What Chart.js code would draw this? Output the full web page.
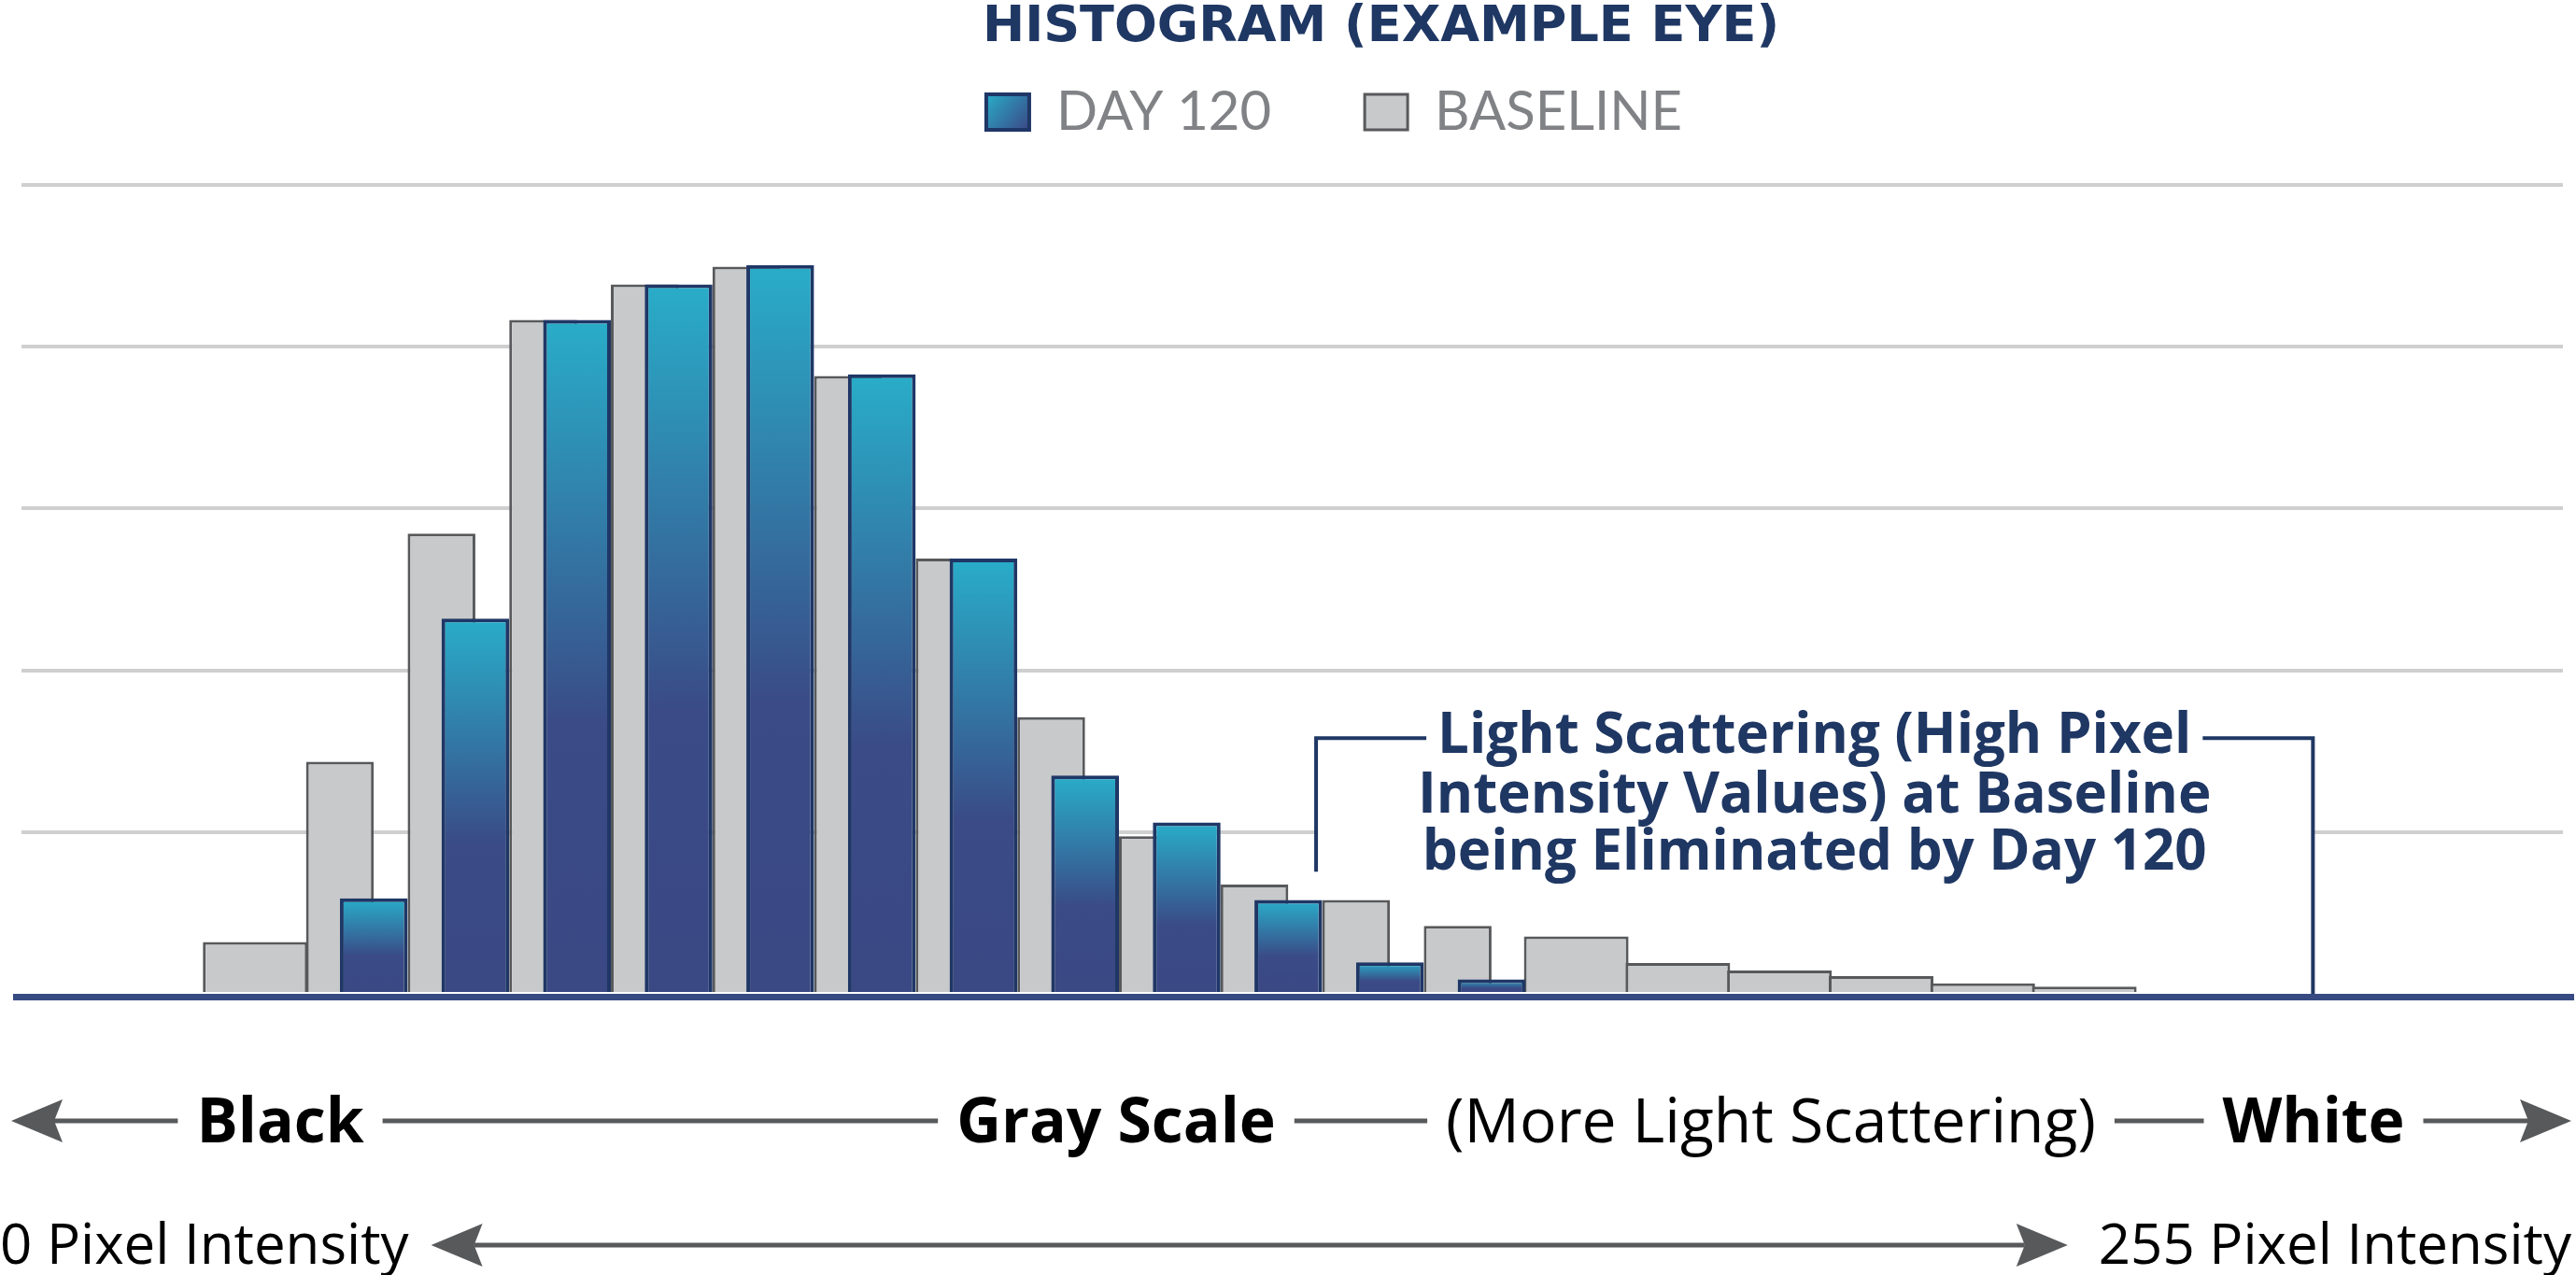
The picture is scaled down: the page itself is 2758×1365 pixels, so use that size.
<!DOCTYPE html>
<html>
<head>
<meta charset="utf-8">
<title>Histogram (Example Eye)</title>
<script src="https://cdn.jsdelivr.net/npm/chart.js"></script>
<style>
    html, body { margin: 0; padding: 0; background: #fff; }
    #wrap { width: 2758px; height: 1365px; }
</style>
</head>
<body>
<div id="wrap"><canvas id="histChart" width="2758" height="1365"></canvas></div>
<script>
// histogram bins, dark (left) to bright (right)
const bins = [0, 1, 2, 3, 4, 5, 6, 7, 8, 9, 10, 11, 12, 13, 14, 15, 16, 17, 18];
const day120   = [0, 11.8, 46.4, 83.3, 87.7, 90.1, 76.6, 53.8, 27.0, 21.2, 11.6, 3.9, 1.8, 0, 0, 0, 0, 0, 0];
const baseline = [6.4, 28.7, 56.9, 83.3, 87.7, 89.9, 76.4, 53.8, 34.2, 19.5, 13.5, 11.6, 8.4, 7.1, 3.8, 2.9, 2.2, 1.3, 0.9];
const seriesNames = ['DAY 120', 'BASELINE'];
const yTicks = [0, 20, 40, 60, 80, 100];

const noteLines = ['Light Scattering (High Pixel', 'Intensity Values) at Baseline', 'being Eliminated by Day 120'];
const scaleWords = [
    { text: 'Black', x: 300, bold: true },
    { text: 'Gray Scale', x: 1195, bold: true },
    { text: '(More Light Scattering)', x: 1896, bold: false },
    { text: 'White', x: 2477, bold: true }
];
const intensityEnds = ['0 Pixel Intensity', '255 Pixel Intensity'];

const NAVY = '#1f3763';
const ARROW = '#58595b';
const legendFont = 58, legendBoxW = 46, legendBoxH = 38;

// where Day 120 has a bar the baseline bar is narrow and sits to its left
const hasDay = day120.map(v => v > 0);
function points(values, keep) {
    return bins.map((b, i) => ({ x: b, y: keep(i) ? values[i] : null }));
}

// hidden linear bin axes, each one offset so bars land where they sit in the picture
const xRange = { min: -1.8, max: 23.21 };
function binAxis(shift) {
    return {
        type: 'linear', axis: 'x', display: false,
        min: xRange.min - shift, max: xRange.max - shift,
        afterBuildTicks: function(scale) { scale.ticks = []; }
    };
}

function dayFill(context) {
    const chart = context.chart;
    if (!chart.chartArea || context.type !== 'data' || context.parsed.y == null) {
        return '#2f74a3';
    }
    const y = chart.scales.y;
    const top = y.getPixelForValue(context.parsed.y);
    const bottom = y.getPixelForValue(0);
    const g = chart.ctx.createLinearGradient(0, top, 0, bottom);
    g.addColorStop(0, '#29adc9');
    g.addColorStop(0.6, '#3a4b87');
    g.addColorStop(1, '#3a4884');
    return g;
}

function arrowHead(c, tipX, y, dir) {
    c.beginPath();
    c.moveTo(tipX, y);
    c.lineTo(tipX - dir * 55, y - 23);
    c.lineTo(tipX - dir * 46, y);
    c.lineTo(tipX - dir * 55, y + 23);
    c.closePath();
    c.fill();
}
function hLine(c, x1, x2, y) {
    c.beginPath();
    c.moveTo(x1, y);
    c.lineTo(x2, y);
    c.stroke();
}

const decorations = {
    id: 'decorations',
    afterLayout: function(chart) {
        // title and legend sit right of centre in the original
        const t = chart.titleBlock;
        t.left += 95; t.right += 95;
        const l = chart.legend;
        l.left += 45; l.right += 45;
        l.top = 91 - l.options.labels.padding;
        l.bottom = chart.chartArea.top;
    },
    beforeDraw: function(chart) {
        const lg = chart.legend;
        if (lg && lg.legendItems.length && lg.legendHitBoxes.length) {
            const hb = lg.legendHitBoxes[0];
            const top = hb.top + Math.max((legendFont - legendBoxH) / 2, 0);
            const g = chart.ctx.createLinearGradient(hb.left, top, hb.left + legendBoxW, top + legendBoxH);
            g.addColorStop(0, '#29adc9');
            g.addColorStop(1, '#3b4785');
            lg.legendItems[0].fillStyle = g;
        }
    },
    beforeDatasetsDraw: function(chart) {
        const c = chart.ctx;
        const area = chart.chartArea;
        const y0 = chart.scales.y.getPixelForValue(0);
        c.save();
        c.strokeStyle = '#374b82';
        c.lineWidth = 7;
        hLine(c, area.left - 9, area.right + 12, y0 + 3.5);
        c.restore();
    },
    afterDatasetsDraw: function(chart) {
        const c = chart.ctx;
        const x = chart.scales.x, y = chart.scales.y;
        const xl = x.getPixelForValue(10.94), xr = x.getPixelForValue(20.75);
        const yt = y.getPixelForValue(31.6), yf = y.getPixelForValue(15.1), y0 = y.getPixelForValue(0);
        const cx = (xl + xr) / 2;
        c.save();
        c.fillStyle = '#fff';
        c.fillRect(xl, yt, xr - xl, yf - yt);
        c.font = '700 60px "Open Sans"';
        const w1 = c.measureText(noteLines[0]).width;
        c.strokeStyle = NAVY;
        c.lineWidth = 4;
        c.beginPath();
        c.moveTo(xl, yf); c.lineTo(xl, yt); c.lineTo(cx - w1 / 2 - 12, yt);
        c.stroke();
        c.beginPath();
        c.moveTo(cx + w1 / 2 + 12, yt); c.lineTo(xr, yt); c.lineTo(xr, y0);
        c.stroke();
        c.fillStyle = NAVY;
        c.textAlign = 'center';
        c.textBaseline = 'alphabetic';
        [16, 80, 141].forEach((dy, i) => c.fillText(noteLines[i], cx, yt + dy));
        c.restore();
    },
    afterDraw: function(chart) {
        const c = chart.ctx;
        c.save();
        c.lineWidth = 5;
        c.strokeStyle = ARROW;
        c.textBaseline = 'alphabetic';

        // Black -- Gray Scale -- White
        const y1 = 1200;
        c.fillStyle = ARROW;
        arrowHead(c, 12, y1, -1);
        arrowHead(c, 2753, y1, 1);
        let cursor = 12 + 46;
        scaleWords.forEach(w => {
            c.font = (w.bold ? '700' : '400') + ' 66px "Open Sans"';
            const wd = c.measureText(w.text).width;
            const left = w.x - wd / 2;
            hLine(c, cursor, left - 20, y1);
            c.fillStyle = '#000';
            c.textAlign = 'center';
            c.fillText(w.text, w.x, y1 + 23);
            cursor = left + wd + 20;
        });
        hLine(c, cursor, 2753 - 46, y1);

        // 0 <-> 255 pixel intensity
        const y2 = 1333;
        c.font = '400 60px "Open Sans"';
        c.fillStyle = '#000';
        c.textAlign = 'left';
        c.fillText(intensityEnds[0], 0, y2 + 20);
        const wl = c.measureText(intensityEnds[0]).width;
        c.textAlign = 'right';
        c.fillText(intensityEnds[1], 2753, y2 + 20);
        const wr = c.measureText(intensityEnds[1]).width;
        const tipL = wl + 24, tipR = 2753 - wr - 33;
        c.fillStyle = ARROW;
        arrowHead(c, tipL, y2, -1);
        arrowHead(c, tipR, y2, 1);
        hLine(c, tipL + 46, tipR - 46, y2);
        c.restore();
    }
};

const ctx = document.getElementById('histChart').getContext('2d');
const histChart = new Chart(ctx, {
    type: 'bar',
    data: {
        datasets: [
            {
                label: seriesNames[0],
                data: points(day120, i => hasDay[i]),
                xAxisID: 'xDay',
                backgroundColor: dayFill,
                borderColor: '#1f3766',
                borderWidth: 4,
                barPercentage: 2 / 3,
                categoryPercentage: 1,
                grouped: false,
                order: 0
            },
            {
                label: seriesNames[1],
                data: points(baseline, i => hasDay[i]),
                xAxisID: 'xBase',
                backgroundColor: '#c8c9cb',
                borderColor: ARROW,
                borderWidth: 3,
                barPercentage: 2 / 3,
                categoryPercentage: 1,
                grouped: false,
                order: 1
            },
            {
                label: seriesNames[1],
                data: points(baseline, i => !hasDay[i]),
                xAxisID: 'xBaseWide',
                backgroundColor: '#c8c9cb',
                borderColor: ARROW,
                borderWidth: 3,
                barPercentage: 1.03,
                categoryPercentage: 1,
                grouped: false,
                order: 2
            }
        ]
    },
    options: {
        responsive: false,
        animation: false,
        events: [],
        layout: { padding: { left: 23, right: 14, top: 0, bottom: 301 } },
        scales: {
            x: binAxis(0),
            xDay: binAxis(2 / 3),
            xBase: binAxis(1 / 3),
            xBaseWide: binAxis(1 / 2),
            y: {
                min: yTicks[0],
                max: yTicks[yTicks.length - 1],
                ticks: { display: false, stepSize: yTicks[1] - yTicks[0] },
                border: { display: false },
                grid: {
                    drawTicks: false,
                    lineWidth: 4,
                    color: c => (c.tick && c.tick.value === 0) ? 'rgba(0,0,0,0)' : '#cfcfcf'
                }
            }
        },
        plugins: {
            tooltip: { enabled: false },
            title: {
                display: true,
                text: 'HISTOGRAM (EXAMPLE EYE)',
                color: NAVY,
                font: { family: 'DejaVu Sans', weight: 'bold', size: 54, lineHeight: 1 },
                padding: { top: 3, bottom: 0 }
            },
            legend: {
                display: true,
                maxHeight: 141,
                labels: {
                    color: '#808285',
                    font: { family: 'Lato', weight: '400', size: legendFont },
                    boxWidth: legendBoxW,
                    boxHeight: legendBoxH,
                    padding: 100,
                    filter: item => item.datasetIndex !== 2
                }
            }
        }
    },
    plugins: [decorations]
});
</script>
</body>
</html>
